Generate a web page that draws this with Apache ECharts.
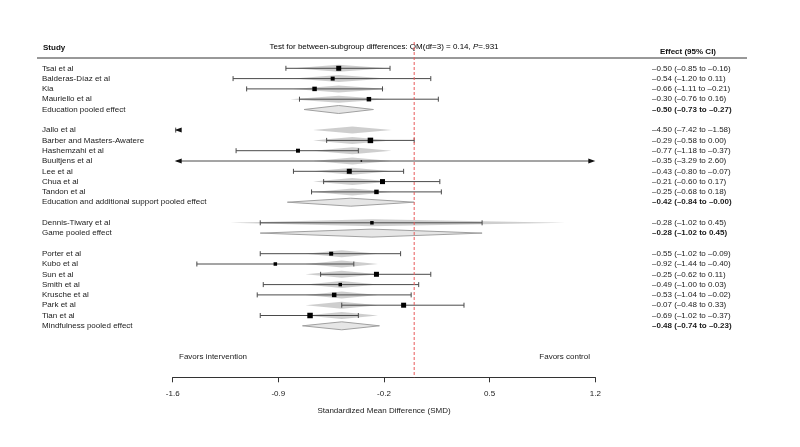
<!DOCTYPE html>
<html>
<head>
<meta charset="utf-8">
<script src="https://cdn.jsdelivr.net/npm/echarts@6/dist/echarts.min.js"></script>
<style>
  html, body { margin: 0; background: #fff; }
  #main { width: 800px; height: 447px; }
</style>
</head>
<body>
<div id="main"></div>
<script>
  // rows of the forest plot, '' = blank spacer row
  const studyNames = [
    'Tsai et al', 'Balderas-Díaz et al', 'Kia', 'Mauriello et al', 'Education pooled effect', '',
    'Jallo et al', 'Barber and Masters-Awatere', 'Hashemzahi et al', 'Buultjens et al', 'Lee et al',
    'Chua et al', 'Tandon et al', 'Education and additional support pooled effect', '',
    'Dennis-Tiwary et al', 'Game pooled effect', '',
    'Porter et al', 'Kubo et al', 'Sun et al', 'Smith et al', 'Krusche et al', 'Park et al',
    'Tian et al', 'Mindfulness pooled effect'
  ]
  const smd = [-0.50, -0.54, -0.66, -0.30, -0.50, null, -4.50, -0.29, -0.77, -0.35, -0.43, -0.21, -0.25, -0.42, null,
    -0.28, -0.28, null, -0.55, -0.92, -0.25, -0.49, -0.53, -0.07, -0.69, -0.48]
  const ciLow = [-0.85, -1.20, -1.11, -0.76, -0.73, null, -7.42, -0.58, -1.18, -3.29, -0.80, -0.60, -0.68, -0.84, null,
    -1.02, -1.02, null, -1.02, -1.44, -0.62, -1.00, -1.04, -0.48, -1.02, -0.74]
  const ciHigh = [-0.16, 0.11, -0.21, 0.16, -0.27, null, -1.58, 0.00, -0.37, 2.60, -0.07, 0.17, 0.18, 0.00, null,
    0.45, 0.45, null, -0.09, -0.40, 0.11, 0.03, -0.02, 0.33, -0.37, -0.23]
  const pooledRow = [0, 0, 0, 0, 1, 0, 0, 0, 0, 0, 0, 0, 0, 1, 0, 0, 1, 0, 0, 0, 0, 0, 0, 0, 0, 1]
  // study weight -> square side
  const boxSize = [5, 4, 4.5, 4.5, 0, 0, 0, 5.5, 4, 1.5, 5, 5, 4.5, 0, 0, 3.5, 0, 0, 4, 3.5, 5, 3.5, 4.5, 5, 5.5, 0]
  // grey shaded band behind each study
  const shadeLow = [-0.80, -0.80, -0.80, -0.82, null, null, -0.67, -0.67, -0.67, -0.67, -0.67, -0.67, -0.67, null, null,
    -1.22, null, null, -0.72, -0.72, -0.72, -0.72, -0.72, -0.72, -0.72, null]
  const shadeMid = [-0.50, -0.50, -0.50, -0.50, null, null, -0.41, -0.41, -0.41, -0.41, -0.41, -0.41, -0.41, null, null,
    -0.28, null, null, -0.48, -0.48, -0.48, -0.48, -0.48, -0.48, -0.48, null]
  const shadeHigh = [-0.18, -0.18, -0.18, -0.18, null, null, -0.15, -0.15, -0.15, -0.15, -0.15, -0.15, -0.15, null, null,
    1.00, null, null, -0.24, -0.24, -0.24, -0.24, -0.24, -0.24, -0.24, null]
  const effectText = [
    '–0.50 (–0.85 to –0.16)', '–0.54 (–1.20 to 0.11)', '–0.66 (–1.11 to –0.21)', '–0.30 (–0.76 to 0.16)',
    '–0.50 (–0.73 to –0.27)', '',
    '–4.50 (–7.42 to –1.58)', '–0.29 (–0.58 to 0.00)', '–0.77 (–1.18 to –0.37)', '–0.35 (–3.29 to 2.60)',
    '–0.43 (–0.80 to –0.07)', '–0.21 (–0.60 to 0.17)', '–0.25 (–0.68 to 0.18)', '–0.42 (–0.84 to –0.00)', '',
    '–0.28 (–1.02 to 0.45)', '–0.28 (–1.02 to 0.45)', '',
    '–0.55 (–1.02 to –0.09)', '–0.92 (–1.44 to –0.40)', '–0.25 (–0.62 to 0.11)', '–0.49 (–1.00 to 0.03)',
    '–0.53 (–1.04 to –0.02)', '–0.07 (–0.48 to 0.33)', '–0.69 (–1.02 to –0.37)', '–0.48 (–0.74 to –0.23)'
  ]
  const xTicks = [-1.6, -0.9, -0.2, 0.5, 1.2]
  const xMin = -1.6, xMax = 1.2

  const FONT = '8px "Liberation Sans", Arial, sans-serif'
  const chart = echarts.init(document.getElementById('main'))

  function diamond(x1, xm, x2, y, h, fill, stroke) {
    return {
      type: 'polygon',
      shape: { points: [[x1, y], [xm, y - h], [x2, y], [xm, y + h]] },
      style: { fill: fill, stroke: stroke || null, lineWidth: 1 }
    }
  }

  function renderRow(params, api) {
    const i = api.value(1)
    const name = studyNames[i]
    if (!name) return null
    const px = v => api.coord([v, i])[0]
    const y = api.coord([0, i])[1]
    const left = px(xMin), right = px(xMax)
    const kids = []
    kids.push({ type: 'text', style: { text: name, x: 42, y: y, font: FONT, fill: '#1a1a1a', verticalAlign: 'middle' } })
    kids.push({ type: 'text', style: {
      text: effectText[i], x: 652, y: y, fill: '#1a1a1a', verticalAlign: 'middle',
      font: (pooledRow[i] ? 'bold ' : '') + FONT
    } })
    if (pooledRow[i]) {
      kids.push(diamond(px(ciLow[i]), px(smd[i]), px(ciHigh[i]), y, 4, '#e6e6e6', '#a0a0a0'))
      return { type: 'group', children: kids }
    }
    if (shadeLow[i] != null) {
      kids.push(diamond(px(shadeLow[i]), px(shadeMid[i]), px(shadeHigh[i]), y, 3.5, 'rgba(190,190,190,0.75)'))
    }
    // confidence interval, clipped to the axis range
    const lo = Math.max(px(ciLow[i]), left)
    const hi = Math.min(px(ciHigh[i]), right)
    const lineStyle = { stroke: '#4a4a4a', lineWidth: 1 }
    kids.push({ type: 'line', shape: { x1: lo + (ciLow[i] < xMin ? 4 : 0), y1: y, x2: hi - (ciHigh[i] > xMax ? 4 : 0), y2: y }, style: lineStyle })
    if (ciLow[i] < xMin) {
      kids.push({ type: 'polygon', shape: { points: [[left + 2, y], [left + 9, y - 2.5], [left + 9, y + 2.5]] }, style: { fill: '#111' } })
    } else {
      kids.push({ type: 'line', shape: { x1: lo, y1: y - 2.5, x2: lo, y2: y + 2.5 }, style: lineStyle })
    }
    if (ciHigh[i] > xMax) {
      kids.push({ type: 'polygon', shape: { points: [[right, y], [right - 7, y - 2.5], [right - 7, y + 2.5]] }, style: { fill: '#111' } })
    } else {
      kids.push({ type: 'line', shape: { x1: hi, y1: y - 2.5, x2: hi, y2: y + 2.5 }, style: lineStyle })
    }
    if (smd[i] >= xMin && smd[i] <= xMax && boxSize[i] > 0) {
      const s = boxSize[i]
      kids.push({ type: 'rect', shape: { x: px(smd[i]) - s / 2, y: y - s / 2, width: s, height: s }, style: { fill: '#000' } })
    }
    return { type: 'group', children: kids }
  }

  const option = {
    animation: false,
    grid: { left: 172.7, right: 204.7, top: 58, bottom: 69.7 },
    xAxis: {
      type: 'value',
      min: xMin,
      max: xMax,
      splitLine: { show: false },
      axisLine: { onZero: false, lineStyle: { color: '#333', width: 1 } },
      axisTick: { customValues: xTicks, length: 5, lineStyle: { color: '#333' } },
      axisLabel: { customValues: xTicks, margin: 12, color: '#1a1a1a', fontSize: 8, fontFamily: 'Liberation Sans',
        formatter: v => v.toFixed(1) },
      name: 'Standardized Mean Difference (SMD)',
      nameLocation: 'middle',
      nameGap: 29,
      nameTextStyle: { color: '#1a1a1a', fontSize: 8, fontFamily: 'Liberation Sans' }
    },
    yAxis: { type: 'value', min: -1, max: 30, inverse: true, show: false },
    graphic: [
      { type: 'line', shape: { x1: 37, y1: 58, x2: 747, y2: 58 }, style: { stroke: '#333', lineWidth: 1 } },
      { type: 'text', style: { text: 'Study', x: 43, y: 48, font: 'bold ' + FONT, fill: '#111', verticalAlign: 'middle' } },
      { type: 'text', style: { text: 'Effect (95% CI)', x: 660, y: 52, font: 'bold ' + FONT, fill: '#111', verticalAlign: 'middle' } },
      { type: 'text', style: {
        text: '{a|Test for between-subgroup differences: QM(df=3) = 0.14, }{b|P}{a|=.931}',
        x: 384, y: 47, align: 'center', verticalAlign: 'middle',
        rich: {
          a: { fontSize: 8, fontFamily: 'Liberation Sans', color: '#1a1a1a' },
          b: { fontSize: 8, fontFamily: 'Liberation Sans', fontStyle: 'italic', color: '#1a1a1a' }
        }
      } },
      { type: 'text', style: { text: 'Favors intervention', x: 179, y: 357, font: FONT, fill: '#1a1a1a', verticalAlign: 'middle' } },
      { type: 'text', style: { text: 'Favors control', x: 590, y: 357, font: FONT, fill: '#1a1a1a', align: 'right', verticalAlign: 'middle' } }
    ],
    series: [
      {
        type: 'custom',
        clip: false,
        renderItem: renderRow,
        data: studyNames.map((n, i) => [0, i]),
        z: 3
      },
      {
        // reference line at zero
        type: 'custom',
        clip: false,
        z: 4,
        renderItem: (params, api) => {
          const p = api.coord([api.value(0), 30])
          return { type: 'line', shape: { x1: p[0], y1: 42, x2: p[0], y2: p[1] },
            style: { stroke: '#e85a5a', lineWidth: 1, lineDash: [3, 2] } }
        },
        data: [[0, 0]]
      }
    ]
  }
  chart.setOption(option)
</script>
</body>
</html>
